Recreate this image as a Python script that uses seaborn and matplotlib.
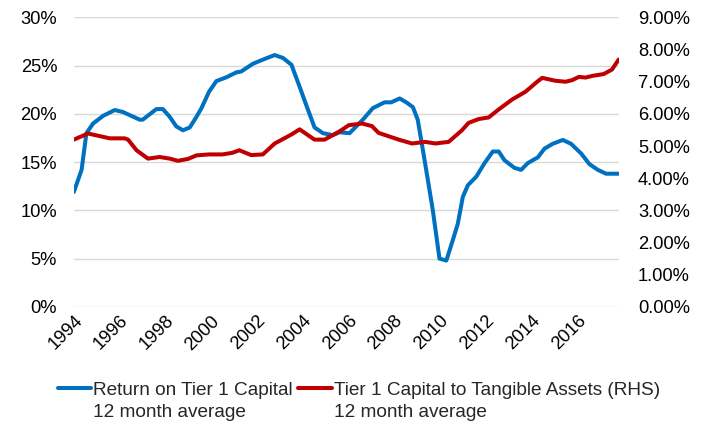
import numpy as np
import pandas as pd
import matplotlib
matplotlib.use("Agg")
import matplotlib.pyplot as plt
import seaborn as sns
from matplotlib.ticker import PercentFormatter
from matplotlib.legend_handler import HandlerLine2D
from matplotlib.lines import Line2D

# Return on Tier 1 Capital, 12 month average (%), left axis
roe_years = [1994.0, 1994.34, 1994.55, 1994.84, 1995.28, 1995.79, 1996.14, 1996.88,
             1997.01, 1997.61, 1997.89, 1998.19, 1998.48, 1998.77, 1999.07, 1999.36,
             1999.58, 1999.91, 2000.23, 2000.67, 2001.10, 2001.32, 2001.83, 2002.34,
             2002.78, 2003.14, 2003.51, 2003.87, 2004.16, 2004.52, 2004.89, 2005.32,
             2005.62, 2006.05, 2006.63, 2007.07, 2007.58, 2007.87, 2008.24, 2008.53,
             2008.82, 2009.03, 2009.33, 2009.69, 2009.98, 2010.28, 2010.56, 2010.78,
             2011.00, 2011.22, 2011.59, 2011.95, 2012.31, 2012.57, 2012.82, 2013.26,
             2013.55, 2013.84, 2014.28, 2014.57, 2014.93, 2015.37, 2015.73, 2016.17,
             2016.53, 2016.90, 2017.26, 2017.81]
roe_values = [11.9, 14.2, 18.0, 19.0, 19.8, 20.4, 20.2, 19.4,
              19.4, 20.5, 20.5, 19.7, 18.7, 18.3, 18.6, 19.7,
              20.6, 22.3, 23.4, 23.8, 24.3, 24.4, 25.2, 25.7,
              26.1, 25.8, 25.1, 22.8, 20.9, 18.6, 18.0, 17.8,
              18.1, 18.0, 19.4, 20.6, 21.2, 21.2, 21.6, 21.2,
              20.7, 19.4, 15.2, 10.0, 5.0, 4.8, 6.9, 8.6,
              11.4, 12.6, 13.5, 14.9, 16.1, 16.1, 15.2, 14.4,
              14.2, 14.9, 15.5, 16.4, 16.9, 17.3, 16.9, 15.9,
              14.8, 14.2, 13.8, 13.8]

# Tier 1 Capital to Tangible Assets, 12 month average (%), right axis
lev_years = [1994.0, 1994.62, 1995.13, 1995.57, 1996.22, 1996.37, 1996.74, 1997.24,
             1997.75, 1998.19, 1998.55, 1998.99, 1999.36, 1999.91, 2000.50, 2000.93,
             2001.23, 2001.75, 2002.26, 2002.78, 2003.51, 2003.87, 2004.23, 2004.52,
             2004.96, 2005.62, 2006.02, 2006.60, 2007.03, 2007.32, 2007.61, 2008.20,
             2008.78, 2009.36, 2009.80, 2010.38, 2010.96, 2011.25, 2011.69, 2012.13,
             2012.57, 2013.16, 2013.74, 2014.25, 2014.47, 2015.05, 2015.49, 2015.78,
             2016.07, 2016.36, 2016.65, 2017.16, 2017.52, 2017.81]
lev_values = [5.20, 5.39, 5.31, 5.24, 5.24, 5.20, 4.87, 4.61,
              4.66, 4.61, 4.54, 4.60, 4.71, 4.74, 4.74, 4.79,
              4.87, 4.72, 4.74, 5.08, 5.36, 5.52, 5.34, 5.20,
              5.20, 5.46, 5.65, 5.70, 5.62, 5.41, 5.34, 5.20,
              5.08, 5.13, 5.08, 5.13, 5.49, 5.72, 5.84, 5.89,
              6.14, 6.45, 6.69, 7.00, 7.12, 7.03, 7.00, 7.05,
              7.15, 7.13, 7.18, 7.24, 7.38, 7.69]

tick_years = list(range(1994, 2017, 2))

BLUE = "#0070C0"
RED = "#C00000"

roe_df = pd.DataFrame({"year": roe_years, "value": roe_values})
lev_df = pd.DataFrame({"year": lev_years, "value": lev_values})


class TopAlignedLine(HandlerLine2D):
    # put the legend line next to the first line of a two-line label
    def create_artists(self, legend, orig_handle, xdescent, ydescent,
                       width, height, fontsize, trans):
        arts = super().create_artists(legend, orig_handle, xdescent, ydescent,
                                      width, height, fontsize, trans)
        for a in arts:
            a.set_ydata([y + fontsize * 0.68 for y in a.get_ydata()])
        return arts


sns.set_theme(style="white")
plt.rcParams["font.family"] = ["Liberation Sans", "DejaVu Sans"]

fig, ax = plt.subplots(figsize=(7.03, 4.25), dpi=100)
fig.subplots_adjust(left=0.105, right=0.880, top=0.959, bottom=0.278)
ax2 = ax.twinx()

sns.lineplot(data=roe_df, x="year", y="value", ax=ax, color=BLUE, lw=2.9)
sns.lineplot(data=lev_df, x="year", y="value", ax=ax2, color=RED, lw=2.9)

ax.set_xlim(1994.0, 2017.81)
ax.set_ylim(0, 30)
ax2.set_ylim(0, 9)
ax.set_yticks(np.arange(0, 31, 5))
ax2.set_yticks(np.arange(0, 10, 1))
ax.yaxis.set_major_formatter(PercentFormatter(decimals=0))
ax2.yaxis.set_major_formatter(PercentFormatter(decimals=2))
ax.set_xticks(tick_years)
ax.set_xticklabels([str(y) for y in tick_years], rotation=45, ha="right",
                   rotation_mode="anchor")

ax.grid(axis="y", color="#d9d9d9", lw=1)
ax.set_axisbelow(True)
for a in (ax, ax2):
    for s in a.spines.values():
        s.set_visible(False)
    a.set_xlabel("")
    a.set_ylabel("")
    a.tick_params(axis="both", length=0, labelsize=13.2, colors="black")
ax.tick_params(axis="y", pad=12)
ax2.tick_params(axis="y", pad=14)
ax.tick_params(axis="x", pad=4)

handles = [Line2D([], [], color=BLUE, lw=2.9), Line2D([], [], color=RED, lw=2.9)]
labels = ["Return on Tier 1 Capital\n12 month average",
          "Tier 1 Capital to Tangible Assets (RHS)\n12 month average"]
leg = fig.legend(handles, labels, loc="lower left", bbox_to_anchor=(0.058, -0.03),
                 ncol=2, frameon=False, fontsize=13.7, handlelength=1.75,
                 handletextpad=0.1, columnspacing=0.3,
                 handler_map={Line2D: TopAlignedLine()})
for t in leg.get_texts():
    t.set_linespacing(1.35)

fig.savefig("out.png", dpi=100)
plt.close(fig)
